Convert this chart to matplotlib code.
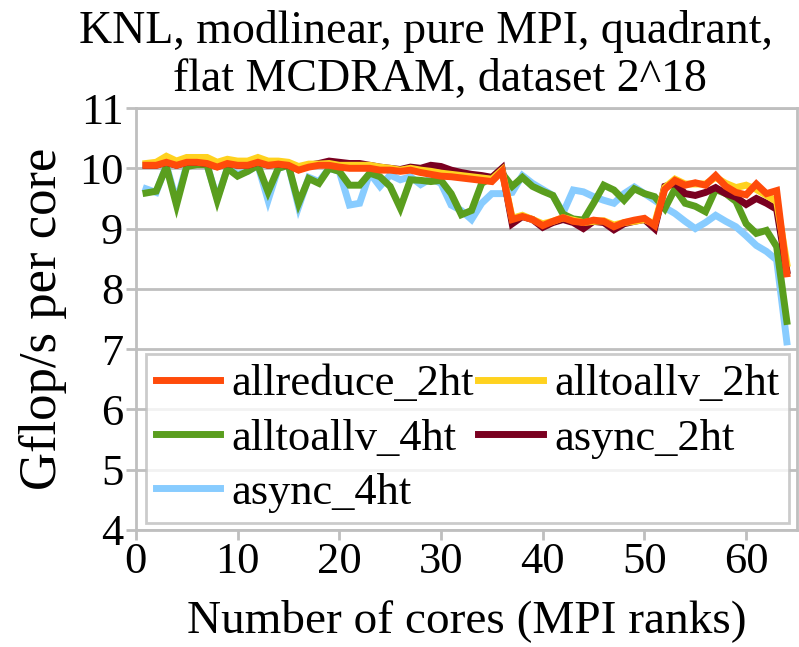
import matplotlib
matplotlib.use("Agg")
import matplotlib.pyplot as plt
import numpy as np

cores = list(range(1, 65))

allreduce_2ht = [10.05, 10.05, 10.1, 10.05, 10.1, 10.1, 10.08, 10.02, 10.08, 10.05,
                 10.05, 10.1, 10.05, 10.07, 10.05, 9.97, 10.02, 10.05, 10.05, 10.02,
                 10.0, 10.0, 10.0, 9.97, 9.97, 9.95, 9.97, 9.93, 9.9, 9.87,
                 9.86, 9.84, 9.82, 9.8, 9.78, 9.95,
                 9.15, 9.2, 9.15, 9.05, 9.12, 9.18, 9.12, 9.1, 9.14, 9.12, 9.03, 9.1, 9.14, 9.17, 9.05,
                 9.65, 9.8, 9.72, 9.76, 9.72, 9.88, 9.7, 9.6, 9.56, 9.74, 9.58, 9.63, 8.25]

alltoallv_2ht = [10.08, 10.1, 10.2, 10.12, 10.18, 10.18, 10.18, 10.1, 10.15, 10.12,
                 10.12, 10.18, 10.12, 10.12, 10.1, 10.03, 10.07, 10.07, 10.08, 10.05,
                 10.05, 10.05, 10.05, 10.02, 10.0, 9.97, 10.0, 9.97, 9.95, 9.92,
                 9.9, 9.88, 9.86, 9.84, 9.82, 9.97,
                 9.17, 9.22, 9.15, 9.08, 9.12, 9.18, 9.14, 9.1, 9.12, 9.13, 9.06, 9.1, 9.12, 9.15, 9.08,
                 9.68, 9.82, 9.74, 9.74, 9.74, 9.85, 9.75, 9.68, 9.72, 9.65, 9.55, 9.45, 8.42]

alltoallv_4ht = [9.59, 9.62, 10.03, 9.39, 10.03, 10.06, 10.06, 9.47, 10.0, 9.87,
                 9.95, 10.05, 9.61, 10.0, 10.05, 9.42, 9.83, 9.75, 10.0, 9.95,
                 9.72, 9.72, 9.92, 9.86, 9.7, 9.34, 9.81, 9.8, 9.78, 9.8,
                 9.58, 9.23, 9.3, 9.75, 9.85, 9.92,
                 9.7, 9.85, 9.7, 9.62, 9.55, 9.24, 9.16, 9.14, 9.42, 9.72, 9.64, 9.47, 9.66, 9.58, 9.53,
                 9.33, 9.66, 9.42, 9.37, 9.28, 9.65, 9.58, 9.45, 9.08, 8.92, 8.97, 8.7, 7.46]

async_2ht = [10.05, 10.05, 10.1, 10.05, 10.1, 10.1, 10.08, 10.03, 10.08, 10.05,
             10.05, 10.1, 10.05, 10.07, 10.05, 9.98, 10.05, 10.08, 10.12, 10.1,
             10.08, 10.08, 10.05, 10.02, 10.0, 9.98, 10.02, 10.0, 10.05, 10.03,
             9.97, 9.93, 9.9, 9.88, 9.85, 10.0,
             9.08, 9.2, 9.15, 9.02, 9.1, 9.15, 9.1, 9.0, 9.12, 9.1, 8.98, 9.08, 9.12, 9.15, 9.0,
             9.7, 9.75, 9.58, 9.55, 9.6, 9.68, 9.58, 9.52, 9.4, 9.5, 9.42, 9.32, 8.3]

async_4ht = [9.66, 9.6, 10.05, 9.45, 10.05, 10.08, 10.05, 9.5, 10.0, 9.9,
             9.95, 10.05, 9.47, 10.0, 10.05, 9.36, 9.85, 9.78, 10.0, 9.95,
             9.39, 9.42, 9.92, 9.7, 9.89, 9.81, 9.86, 9.73, 9.83, 9.75,
             9.39, 9.3, 9.15, 9.42, 9.58, 9.58,
             9.6, 9.88, 9.75, 9.65, 9.55, 9.26, 9.64, 9.61, 9.53, 9.47, 9.42, 9.58, 9.69, 9.58, 9.47,
             9.35, 9.25, 9.12, 9.0, 9.1, 9.22, 9.12, 9.03, 8.88, 8.72, 8.62, 8.48, 7.12]

series_names = ["allreduce_2ht", "alltoallv_2ht", "alltoallv_4ht", "async_2ht", "async_4ht"]
series_colors = ["#FF4B0A", "#FFD21F", "#5A9E1E", "#7A0020", "#88CCFF"]
series_data = [allreduce_2ht, alltoallv_2ht, alltoallv_4ht, async_2ht, async_4ht]

title_lines = ["KNL, modlinear, pure MPI, quadrant,", "flat MCDRAM, dataset 2^18"]
x_label = "Number of cores (MPI ranks)"
y_label = "Gflop/s per core"
x_ticks = [0, 10, 20, 30, 40, 50, 60]
y_ticks = [4, 5, 6, 7, 8, 9, 10, 11]

plt.rcParams['font.family'] = ['Liberation Serif', 'DejaVu Serif']

fig = plt.figure(figsize=(7.99, 6.47), dpi=100)
ax = fig.add_axes([0.170, 0.181, 0.8275, 0.652])

draw_order = [4, 2, 3, 1, 0]
lines = {}
for i in draw_order:
    ln, = ax.plot(cores, series_data[i], color=series_colors[i], lw=5,
                  solid_joinstyle='miter', label=series_names[i], zorder=3)
    lines[i] = ln

ax.set_xlim(0, 65)
ax.set_ylim(4, 11)
ax.set_xticks(x_ticks)
ax.set_yticks(y_ticks)
ax.tick_params(axis='both', labelsize=32, color='#BFBFBF', width=2, length=7,
               direction='out', pad=2)
ax.yaxis.grid(True, color='#BFBFBF', lw=2, zorder=0)
ax.set_axisbelow(True)
for sp in ax.spines.values():
    sp.set_color('#BFBFBF')
    sp.set_linewidth(2)

ax.set_xlabel(x_label, fontsize=34)
ax.set_ylabel(y_label, fontsize=38)
ax.xaxis.set_label_coords(0.5, -0.165)
ax.yaxis.set_label_coords(-0.104, 0.5)

fig.text(0.533, 0.9335, title_lines[0], fontsize=33, ha='center', va='baseline')
fig.text(0.551, 0.8594, title_lines[1], fontsize=33, ha='center', va='baseline')

legend_order = [0, 2, 4, 1, 3]
handles = [lines[i] for i in legend_order]
labels = [series_names[i] for i in legend_order]
leg = ax.legend(handles, labels, ncol=2, loc='lower left',
                bbox_to_anchor=(0.015, 0.017, 0.973, 0.398), mode='expand',
                fontsize=32, frameon=True, fancybox=False, handlelength=1.45,
                handletextpad=0.25, borderaxespad=0, borderpad=0.22,
                columnspacing=0.2, labelspacing=0.32)
leg.get_frame().set_edgecolor('#BFBFBF')
leg.get_frame().set_linewidth(2)
leg.set_zorder(5)

fig.savefig("out.png", dpi=100)
